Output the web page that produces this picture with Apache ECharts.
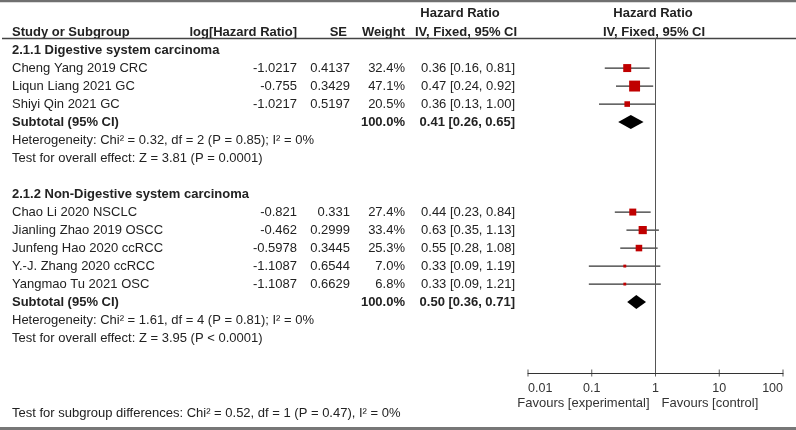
<!DOCTYPE html>
<html><head><meta charset="utf-8">
<script src="https://cdn.jsdelivr.net/npm/echarts@6/dist/echarts.min.js"></script>
<style>html,body{margin:0;padding:0;background:#fff}#c{width:796px;height:430px}</style>
</head><body><div id="c"></div>
<script>
// ---- data ----
const groupTitles = ['2.1.1 Digestive system carcinoma', '2.1.2 Non-Digestive system carcinoma'];
const groupRows = [0, 8];
const studies = ['Cheng Yang 2019 CRC', 'Liqun Liang 2021 GC', 'Shiyi Qin 2021 GC', 'Chao Li 2020 NSCLC', 'Jianling Zhao 2019 OSCC', 'Junfeng Hao 2020 ccRCC', 'Y.-J. Zhang 2020 ccRCC', 'Yangmao Tu 2021 OSC'];
const studyRows = [1, 2, 3, 9, 10, 11, 12, 13];
const logHR = ['-1.0217', '-0.755', '-1.0217', '-0.821', '-0.462', '-0.5978', '-1.1087', '-1.1087'];
const seVals = ['0.4137', '0.3429', '0.5197', '0.331', '0.2999', '0.3445', '0.6544', '0.6629'];
const weights = [32.4, 47.1, 20.5, 27.4, 33.4, 25.3, 7.0, 6.8];
const hr = [0.36, 0.47, 0.36, 0.44, 0.63, 0.55, 0.33, 0.33];
const ciLo = [0.16, 0.24, 0.13, 0.23, 0.35, 0.28, 0.09, 0.09];
const ciHi = [0.81, 0.92, 1.00, 0.84, 1.13, 1.08, 1.19, 1.21];
const subRows = [4, 14];
const subHR = [0.41, 0.50];
const subLo = [0.26, 0.36];
const subHi = [0.65, 0.71];
const subWeight = ['100.0%', '100.0%'];
const hetText = ['Heterogeneity: Chi\u00b2 = 0.32, df = 2 (P = 0.85); I\u00b2 = 0%', 'Heterogeneity: Chi\u00b2 = 1.61, df = 4 (P = 0.81); I\u00b2 = 0%'];
const hetRows = [5, 15];
const effText = ['Test for overall effect: Z = 3.81 (P = 0.0001)', 'Test for overall effect: Z = 3.95 (P < 0.0001)'];
const effRows = [6, 16];
const subgroupDiff = 'Test for subgroup differences: Chi\u00b2 = 0.52, df = 1 (P = 0.47), I\u00b2 = 0%';
const tickVals = [0.01, 0.1, 1, 10, 100];
const tickLabels = ['0.01', '0.1', '1', '10', '100'];
const favours = ['Favours [experimental]', 'Favours [control]'];

const FONT = '"Liberation Sans", Arial, sans-serif';
const TXT = '#222';
const fmt2 = v => v.toFixed(2);
const Y_MIN = -0.67, Y_MAX = 17.94;

const chart = echarts.init(document.getElementById('c'));
chart.setOption({
  animation: false,
  grid: { left: 528, right: 13, top: 38, bottom: 57 },
  xAxis: {
    type: 'log', logBase: 10, min: 0.01, max: 100,
    axisLine: { onZero: false, lineStyle: { color: '#333', width: 1 } },
    axisTick: { show: false }, splitLine: { show: false },
    axisLabel: {
      color: '#333', fontSize: 12.5, fontFamily: FONT, margin: 9,
      alignMinLabel: 'left', alignMaxLabel: 'right',
      formatter: v => {
        const i = tickVals.findIndex(t => Math.abs(Math.log10(t) - Math.log10(v)) < 1e-6);
        return i >= 0 ? tickLabels[i] : '';
      }
    }
  },
  yAxis: { type: 'value', inverse: true, min: Y_MIN, max: Y_MAX, show: false },
  series: [
    {
      type: 'custom', name: 'studies', clip: false,
      encode: { x: [0, 1, 2], y: 3 },
      data: hr.map((v, i) => [v, ciLo[i], ciHi[i], studyRows[i], weights[i]]),
      renderItem: (params, api) => {
        const p = api.coord([api.value(0), api.value(3)]);
        const l = api.coord([api.value(1), api.value(3)]);
        const h = api.coord([api.value(2), api.value(3)]);
        const s = 1.5 + 0.2 * api.value(4);
        return {
          type: 'group', children: [
            { type: 'line', shape: { x1: l[0], y1: p[1], x2: h[0], y2: p[1] }, style: { stroke: '#333', lineWidth: 1.3 } },
            { type: 'rect', shape: { x: p[0] - s / 2, y: p[1] - s / 2, width: s, height: s }, style: { fill: '#c00000' } }
          ]
        };
      },
      markLine: {
        silent: true, symbol: 'none', label: { show: false },
        lineStyle: { color: '#555', width: 1, type: 'solid' },
        data: [{ xAxis: 1 }]
      }
    },
    {
      type: 'custom', name: 'subtotals', clip: false,
      encode: { x: [0, 1, 2], y: 3 },
      data: subHR.map((v, i) => [v, subLo[i], subHi[i], subRows[i]]),
      renderItem: (params, api) => {
        const p = api.coord([api.value(0), api.value(3)]);
        const l = api.coord([api.value(1), api.value(3)]);
        const h = api.coord([api.value(2), api.value(3)]);
        const hh = 7;
        return {
          type: 'polygon',
          shape: { points: [[l[0], p[1]], [p[0], p[1] - hh], [h[0], p[1]], [p[0], p[1] + hh]] },
          style: { fill: '#000' }
        };
      }
    },
    {
      type: 'scatter', name: 'ticks', clip: false, silent: true,
      symbol: 'rect', symbolSize: [1, 7],
      itemStyle: { color: '#333' },
      data: tickVals.map(v => [v, Y_MAX])
    }
  ]
});

// ---- table text ----
const ry = r => chart.convertToPixel({ yAxisIndex: 0 }, r);
const x1 = chart.convertToPixel({ xAxisIndex: 0 }, 1);
const g = [];
function t(text, x, y, align, bold, color, size) {
  g.push({ type: 'text', x: x, y: y, silent: true, style: {
    text: text, fontFamily: FONT, fontSize: size || 13, fontWeight: bold ? 'bold' : 'normal',
    fill: color || TXT, align: align, verticalAlign: 'middle' } });
}
const C_NAME = 12, C_LOG = 297, C_SE = 350, C_W = 405, C_HR = 515;
// headers
t('Hazard Ratio', 460, ry(-2.05), 'center', true);
t('Hazard Ratio', 653, ry(-2.05), 'center', true);
t('Study or Subgroup', C_NAME, ry(-1), 'left', true);
t('log[Hazard Ratio]', C_LOG, ry(-1), 'right', true);
t('SE', C_SE - 3, ry(-1), 'right', true);
t('Weight', C_W, ry(-1), 'right', true);
t('IV, Fixed, 95% CI', 466, ry(-1), 'center', true);
t('IV, Fixed, 95% CI', 654, ry(-1), 'center', true);
groupTitles.forEach((s, i) => t(s, C_NAME, ry(groupRows[i]), 'left', true));
studies.forEach((s, i) => {
  const y = ry(studyRows[i]);
  t(s, C_NAME, y, 'left');
  t(logHR[i], C_LOG, y, 'right');
  t(seVals[i], C_SE, y, 'right');
  t(weights[i].toFixed(1) + '%', C_W, y, 'right');
  t(fmt2(hr[i]) + ' [' + fmt2(ciLo[i]) + ', ' + fmt2(ciHi[i]) + ']', C_HR, y, 'right');
});
subRows.forEach((r, i) => {
  const y = ry(r);
  t('Subtotal (95% CI)', C_NAME, y, 'left', true);
  t(subWeight[i], C_W, y, 'right', true);
  t(fmt2(subHR[i]) + ' [' + fmt2(subLo[i]) + ', ' + fmt2(subHi[i]) + ']', C_HR, y, 'right', true);
});
hetText.forEach((s, i) => t(s, C_NAME, ry(hetRows[i]), 'left'));
effText.forEach((s, i) => t(s, C_NAME, ry(effRows[i]), 'left'));
t(subgroupDiff, C_NAME, 413, 'left');
t(favours[0], x1 - 6, 403, 'right', false, '#333', 13);
t(favours[1], x1 + 6, 403, 'left', false, '#333', 13);
// rules
g.push({ type: 'line', silent: true, shape: { x1: 0, y1: 1, x2: 796, y2: 1 }, style: { stroke: '#707070', lineWidth: 2.5 } });
g.push({ type: 'line', silent: true, shape: { x1: 2, y1: 38.5, x2: 796, y2: 38.5 }, style: { stroke: '#444', lineWidth: 1.5 } });
g.push({ type: 'line', silent: true, shape: { x1: 0, y1: 428.5, x2: 796, y2: 428.5 }, style: { stroke: '#777', lineWidth: 3 } });
chart.setOption({ graphic: g });
</script></body></html>
